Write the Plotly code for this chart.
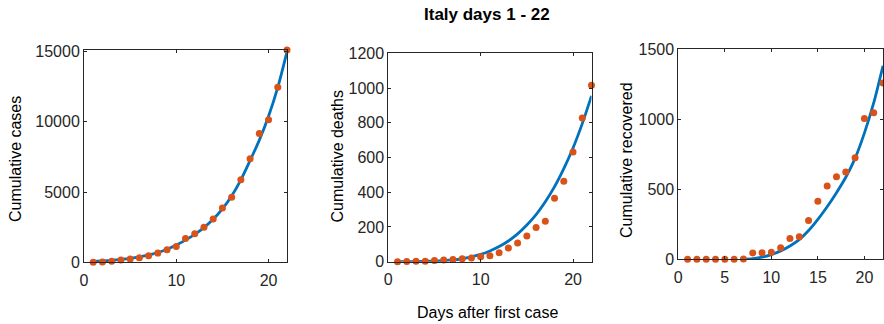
import plotly.graph_objects as go

# Days since the first reported case
days = list(range(1, 23))

# Reported cumulative counts for Italy
cases = [3, 20, 79, 157, 229, 323, 470, 655, 889, 1128, 1694,
         2036, 2502, 3089, 3858, 4636, 5883, 7375, 9172, 10149, 12462, 15113]
deaths = [0, 1, 2, 3, 7, 10, 12, 17, 21, 29, 34,
          52, 79, 107, 148, 197, 233, 366, 463, 631, 827, 1016]
recovered = [0, 0, 0, 0, 1, 1, 3, 45, 46, 50, 83,
             149, 160, 276, 414, 523, 589, 622, 724, 1004, 1045, 1258]

# Fitted model curves, sampled at whole days
fit_cases = [60, 95, 140, 205, 285, 390, 525, 700, 930, 1230, 1580,
             1990, 2470, 3060, 3800, 4720, 5870, 7250, 8700, 10400, 12450, 15000]
fit_deaths = [0, 0.5, 1.5, 2.5, 3.5, 6, 10, 17, 28, 42, 62,
              87, 119, 160, 211, 271, 345, 432, 536, 655, 795, 955]
fit_rec_days = list(range(7, 23))
fit_recovered = [0, 5, 15, 33, 60, 95, 140, 205, 285, 375,
                 475, 585, 720, 900, 1115, 1380]

y_titles = ["Cumulative cases", "Cumulative deaths", "Cumulative recovered"]
y_ranges = [[0, 15113], [0, 1200], [0, 1500]]
y_dticks = [5000, 200, 500]
x_dticks = [10, 10, 5]

W, H = 884, 324
BLUE = "#0072BD"
ORANGE = "#D95319"
AX = "#262626"
FONT = "Liberation Sans, Arial, Helvetica, sans-serif"

# panel boxes in pixels: left, right, top, bottom
boxes = [(84, 287, 50, 262.3), (388.3, 591.5, 53.3, 261.7), (678.3, 883, 49, 259.3)]
ytitle_pos = [(15, 159), (337.5, 156), (626, 160)]

fig = go.Figure()
series = [
    (days, fit_cases, cases),
    (days, fit_deaths, deaths),
    (fit_rec_days, fit_recovered, recovered),
]

layout = dict(
    width=W, height=H,
    margin=dict(l=0, r=0, t=0, b=0, autoexpand=False),
    paper_bgcolor="white", plot_bgcolor="white",
    showlegend=False,
    font=dict(family=FONT, size=16, color=AX),
)

annotations = []
for i, ((fx, fy, obs), box, yt) in enumerate(zip(series, boxes, ytitle_pos)):
    n = i + 1
    xa = "x" if n == 1 else f"x{n}"
    ya = "y" if n == 1 else f"y{n}"
    fig.add_trace(go.Scatter(
        x=fx, y=fy, mode="lines", xaxis=xa, yaxis=ya,
        line=dict(color=BLUE, width=2.8, shape="spline", smoothing=0.8),
        hoverinfo="skip",
    ))
    fig.add_trace(go.Scatter(
        x=days, y=obs, mode="markers", xaxis=xa, yaxis=ya,
        marker=dict(color=ORANGE, size=7, line=dict(width=0)),
        cliponaxis=False,
    ))
    l, r, t, b = box
    axis_common = dict(
        showline=True, linecolor=AX, linewidth=1, mirror="ticks",
        ticks="inside", ticklen=3, tickcolor=AX, tickwidth=1,
        showgrid=False, zeroline=False, automargin=False,
        tickfont=dict(family=FONT, size=16, color=AX),
    )
    layout["xaxis" if n == 1 else f"xaxis{n}"] = dict(
        domain=[l / W, r / W], range=[0, 22], dtick=x_dticks[i], tick0=0,
        anchor=ya, ticklabelstandoff=3, **axis_common,
    )
    layout["yaxis" if n == 1 else f"yaxis{n}"] = dict(
        domain=[1 - b / H, 1 - t / H], range=y_ranges[i], dtick=y_dticks[i],
        tick0=0, anchor=xa, tickformat="d", **axis_common,
    )
    annotations.append(dict(
        text=y_titles[i], x=yt[0] / W, y=1 - yt[1] / H, xref="paper", yref="paper",
        showarrow=False, textangle=-90, xanchor="center", yanchor="middle",
        font=dict(family=FONT, size=16, color="black"),
    ))

annotations.append(dict(
    text="Days after first case", x=487 / W, y=1 - 312 / H,
    xref="paper", yref="paper", showarrow=False,
    xanchor="center", yanchor="middle",
    font=dict(family=FONT, size=16, color="black"),
))
annotations.append(dict(
    text="<b>Italy days 1 - 22</b>", x=487 / W, y=1 - 15 / H,
    xref="paper", yref="paper", showarrow=False,
    xanchor="center", yanchor="middle",
    font=dict(family=FONT, size=17, color="black"),
))
layout["annotations"] = annotations

fig.update_layout(**layout)
fig.write_html("out.html")
